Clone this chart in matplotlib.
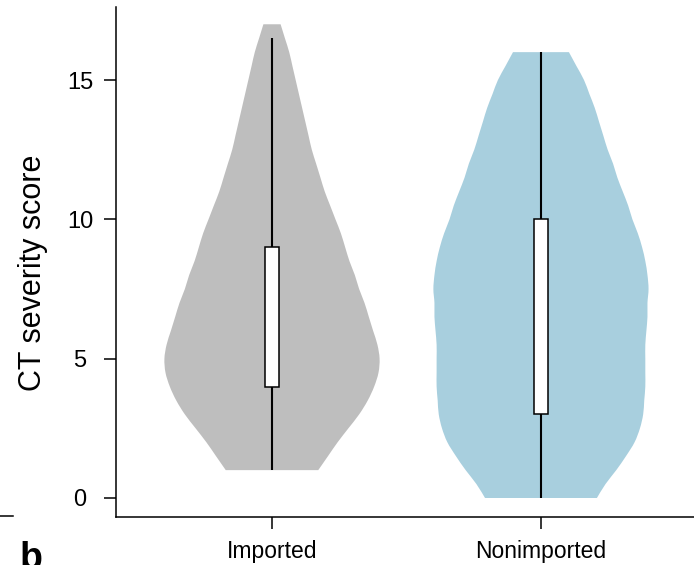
import matplotlib
matplotlib.use('Agg')
import matplotlib.pyplot as plt
from matplotlib.lines import Line2D
from matplotlib.path import Path
from matplotlib.patches import PathPatch

# groups and summary stats
groups = ['Imported', 'Nonimported']
q1 = [4, 3]
q3 = [9, 10]
whisk_lo = [1, 0]
whisk_hi = [16.5, 16]

# violin outlines: score levels and relative density (widest = 1)
imp_score = [1.0, 1.5, 2.0, 2.5, 3.0, 3.5, 4.0, 4.5, 5.0, 5.5, 6.0, 6.5, 7.0, 7.5,
             8.0, 8.5, 9.0, 9.5, 10.0, 10.5, 11.0, 11.5, 12.0, 12.5, 13.0, 13.5,
             14.0, 14.5, 15.0, 15.5, 16.0, 16.5, 17.0]
imp_dens = [0.43, 0.52, 0.61, 0.71, 0.81, 0.89, 0.95, 0.99, 1.00, 0.98, 0.94, 0.90,
            0.86, 0.81, 0.77, 0.72, 0.68, 0.64, 0.59, 0.54, 0.49, 0.45, 0.41, 0.37,
            0.34, 0.31, 0.28, 0.25, 0.22, 0.19, 0.16, 0.12, 0.08]

non_score = [0.0, 0.5, 1.0, 1.5, 2.0, 2.5, 3.0, 3.5, 4.0, 4.5, 5.0, 5.5, 6.0, 6.5,
             7.0, 7.5, 8.0, 8.5, 9.0, 9.5, 10.0, 10.5, 11.0, 11.5, 12.0, 12.5, 13.0,
             13.5, 14.0, 14.5, 15.0, 15.5, 16.0]
non_dens = [0.52, 0.60, 0.70, 0.79, 0.87, 0.92, 0.95, 0.96, 0.97, 0.97, 0.97, 0.97,
            0.98, 0.99, 0.99, 1.00, 0.99, 0.97, 0.94, 0.90, 0.85, 0.81, 0.76, 0.71,
            0.67, 0.62, 0.58, 0.54, 0.50, 0.45, 0.40, 0.33, 0.26]

outlines = [(imp_score, imp_dens), (non_score, non_dens)]
colors = ['#BEBEBE', '#A8CFDE']
yticks = [0, 5, 10, 15]


def smooth_path(xs, ys):
    # Catmull-Rom through the points, drawn as cubic Bezier segments
    verts = [(xs[0], ys[0])]
    codes = [Path.MOVETO]
    n = len(xs)
    for k in range(n - 1):
        x0, y0 = (xs[k - 1], ys[k - 1]) if k > 0 else (xs[k], ys[k])
        x1, y1 = xs[k], ys[k]
        x2, y2 = xs[k + 1], ys[k + 1]
        x3, y3 = (xs[k + 2], ys[k + 2]) if k + 2 < n else (x2, y2)
        verts += [(x1 + (x2 - x0) / 6, y1 + (y2 - y0) / 6),
                  (x2 - (x3 - x1) / 6, y2 - (y3 - y1) / 6),
                  (x2, y2)]
        codes += [Path.CURVE4] * 3
    return verts, codes


plt.rcParams['font.family'] = ['Liberation Sans', 'DejaVu Sans']

fig = plt.figure(figsize=(6.94, 5.65), dpi=100)
ax = fig.add_axes([0.16715, 0.08496, 1 - 0.16715, 0.98761 - 0.08496])

half = 0.40   # half-width of the widest part, in x units
for i, (sc, dn) in enumerate(outlines):
    pos = i + 1
    right = [pos + d * half for d in dn]
    left = [pos - d * half for d in dn]
    v1, c1 = smooth_path(right, sc)
    v2, c2 = smooth_path(left[::-1], sc[::-1])
    verts = v1 + v2 + [v1[0]]
    codes = c1 + [Path.LINETO] + c2[1:] + [Path.CLOSEPOLY]
    ax.add_patch(PathPatch(Path(verts, codes), facecolor=colors[i], lw=0, zorder=1))
    ax.vlines(pos, whisk_lo[i], whisk_hi[i], color='black', lw=1.5, zorder=2)
    ax.bar(pos, q3[i] - q1[i], bottom=q1[i], width=0.052, color='white',
           edgecolor='black', lw=1.1, zorder=3)

ax.set_xlim(0.42, 2.569)
ax.set_ylim(-0.682, 17.62)
ax.set_xticks([1, 2])
ax.set_xticklabels(groups, fontsize=16.5)
ax.set_yticks(yticks)
ax.set_yticklabels([str(t) for t in yticks], fontsize=17)
for lab in ax.get_yticklabels():
    lab.set_horizontalalignment('center')

for s in ['top', 'right']:
    ax.spines[s].set_visible(False)
for s in ['left', 'bottom']:
    ax.spines[s].set_linewidth(1.1)
ax.tick_params(axis='both', length=8.6, width=1.1, direction='out')
ax.tick_params(axis='y', pad=17.3)
ax.tick_params(axis='x', pad=8)

ax.set_ylabel('CT severity score', fontsize=22, va='center')
ax.yaxis.set_label_coords(-0.1436, 0.478)

# panel letter and leftover axis from the neighbouring panel
fig.text(20 / 694, -0.007, 'b', fontsize=27, fontweight='bold', va='baseline')
fig.add_artist(Line2D([0, 13 / 694], [1 - 516 / 565, 1 - 516 / 565],
                      color='black', lw=1.1))

fig.savefig('out.png', dpi=100)
